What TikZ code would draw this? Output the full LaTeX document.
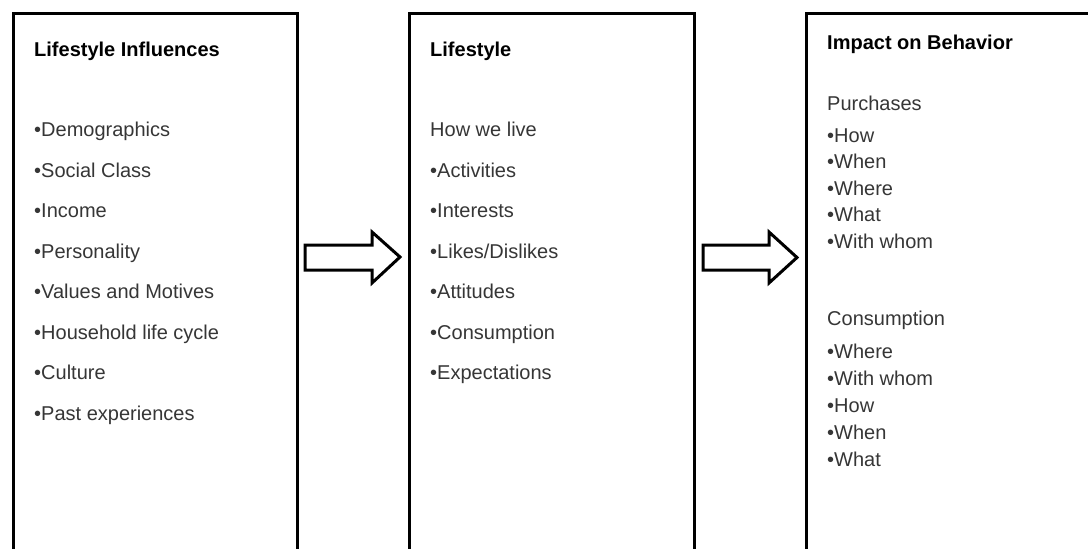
\documentclass[tikz,border=0pt]{standalone}
\usepackage{fontspec}
\setmainfont{Liberation Sans}
\begin{document}
\begin{tikzpicture}[x=1pt,y=-1pt,
  panel/.style={draw=black,line width=3pt,fill=white,anchor=north west,inner sep=0pt},
  heading/.style={anchor=base west,inner sep=0pt,text=black,font=\fontsize{20}{23}\selectfont\bfseries},
  item/.style={anchor=base west,inner sep=0pt,text=itemgray,font=\fontsize{20}{23}\selectfont},
  blockarrow/.style={draw=black,line width=3pt,fill=white,line join=miter}]
\definecolor{itemgray}{HTML}{363636}
\useasboundingbox (0,0) rectangle (1088,549);
\clip (0,0) rectangle (1088,549);

% three panels, open past the lower edge
\node[panel,minimum width=284pt,minimum height=600pt] (influences) at (11.5,12) {};
\node[panel,minimum width=285pt,minimum height=600pt] (lifestyle) at (408,12) {};
\node[panel,minimum width=300pt,minimum height=600pt] (impact) at (805,12) {};

% block arrows between panels
\coordinate (a1) at (305,257);
\coordinate (a2) at (703,257.5);
\draw[blockarrow] (a1) ++(0,-12) -- ++(67,0) -- ++(0,-13) -- ++(28,25) -- ++(-28,26) -- ++(0,-13) -- ++(-67,0) -- cycle;
\draw[blockarrow] (a2) ++(0,-12.5) -- ++(66,0) -- ++(0,-13) -- ++(28,25.5) -- ++(-28,25.5) -- ++(0,-13) -- ++(-66,0) -- cycle;

% left panel
\node[heading] (h1) at (34,56) {Lifestyle Influences};
\foreach \t [count=\i] in {Demographics,Social Class,Income,Personality,Values and Motives,Household life cycle,Culture,Past experiences}
  \node[item] (l\i) at (34,136.5+40.5*\i-40.5) {•\t};

% middle panel
\node[heading] (h2) at (430,56) {Lifestyle};
\node[item] (m0) at (430,136.5) {How we live};
\foreach \t [count=\i] in {Activities,Interests,Likes/Dislikes,Attitudes,Consumption,Expectations}
  \node[item] (m\i) at (430,136.5+40.5*\i) {•\t};

% right panel
\node[heading] (h3) at (827,49.5) {Impact on Behavior};
\node[item] (p0) at (827,110.5) {Purchases};
\foreach \t [count=\i] in {How,When,Where,What,With whom}
  \node[item] (p\i) at (827,142.5+26.4*\i-26.4) {•\t};
\node[item] (c0) at (827,325) {Consumption};
\foreach \t [count=\i] in {Where,With whom,How,When,What}
  \node[item] (c\i) at (827,358+27*\i-27) {•\t};
\end{tikzpicture}
\end{document}
